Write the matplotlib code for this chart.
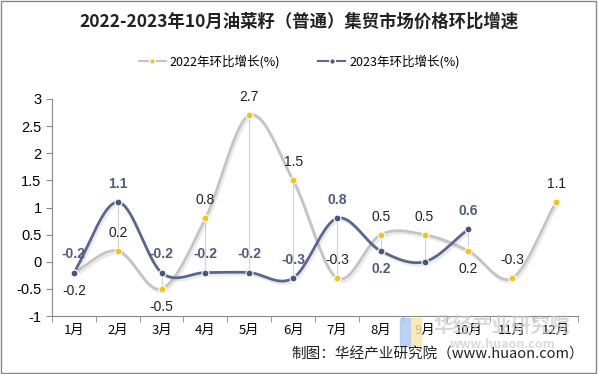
import numpy as np
import matplotlib.pyplot as plt
import matplotlib.patheffects as pe
from matplotlib.patches import Rectangle
from matplotlib.lines import Line2D

plt.rcParams['font.family'] = ['Noto Sans CJK SC', 'DejaVu Sans']

# данные
months = ['1月', '2月', '3月', '4月', '5月', '6月', '7月', '8月', '9月', '10月', '11月', '12月']
y2022 = [-0.2, 0.2, -0.5, 0.8, 2.7, 1.5, -0.3, 0.5, 0.5, 0.2, -0.3, 1.1]
y2023 = [-0.2, 1.1, -0.2, -0.2, -0.2, -0.3, 0.8, 0.2, 0.0, 0.6]
# где подписи: 1 - сверху, -1 - снизу, 0 - нет
pos2022 = [-1, 1, -1, 1, 1, 1, 1, 1, 1, -1, 1, 1]
pos2023 = [1, 1, 1, 1, 1, 1, 1, -1, 0, 1]


def smooth(ys, n=24):
    # сглаживание Catmull-Rom, как у сглаженной линии в Excel
    xs = np.arange(len(ys), dtype=float)
    ys = np.asarray(ys, dtype=float)
    px = np.concatenate([[2 * xs[0] - xs[1]], xs, [2 * xs[-1] - xs[-2]]])
    py = np.concatenate([[2 * ys[0] - ys[1]], ys, [2 * ys[-1] - ys[-2]]])
    ox, oy = [], []
    for i in range(1, len(px) - 2):
        t = np.linspace(0, 1, n)
        for p, out in ((px, ox), (py, oy)):
            p0, p1, p2, p3 = p[i - 1], p[i], p[i + 1], p[i + 2]
            out.extend(0.5 * ((2 * p1) + (-p0 + p2) * t + (2 * p0 - 5 * p1 + 4 * p2 - p3) * t ** 2
                              + (-p0 + 3 * p1 - 3 * p2 + p3) * t ** 3))
    return np.array(ox), np.array(oy)


fig = plt.figure(figsize=(5.98, 3.74), dpi=100)
ax = fig.add_axes([52 / 598, 1 - 316 / 374, 526 / 598, 217 / 374])

c22_line, c22_mk = '#c4c4c4', '#f5c21b'
c23_line, c23_mk = '#5b6690', '#4a5478'
shadow = [pe.SimpleLineShadow(offset=(1.2, -1.8), shadow_color='#999999', alpha=0.2), pe.Normal()]
num_font = ['Liberation Sans', 'DejaVu Sans']

# вертикальные линии между рядами
for i in range(len(y2023)):
    ax.plot([i, i], [y2022[i], y2023[i]], color='#d2d2d2', lw=0.8, zorder=1)

sx, sy = smooth(y2022)
ax.plot(sx, sy, color=c22_line, lw=2, path_effects=shadow, zorder=2)
sx, sy = smooth(y2023)
ax.plot(sx, sy, color=c23_line, lw=2, path_effects=shadow, zorder=3)
x22 = np.arange(len(y2022))
x23 = np.arange(len(y2023))
ax.plot(x22, y2022, 'o', ms=5, mfc=c22_mk, mec='white', mew=0.8, zorder=4)
ax.plot(x23, y2023, 'o', ms=5, mfc=c23_mk, mec='white', mew=0.8, zorder=5)

for i, v in enumerate(y2022):
    if pos2022[i]:
        ax.annotate(f'{v:g}', (i, v), xytext=(0, 8 * pos2022[i]), textcoords='offset points',
                    ha='center', va='bottom' if pos2022[i] > 0 else 'top', fontsize=10,
                    color='#222222', family=num_font)
for i, v in enumerate(y2023):
    if pos2023[i]:
        ax.annotate(f'{v:g}', (i, v), xytext=(0, 8 * pos2023[i]), textcoords='offset points',
                    ha='center', va='bottom' if pos2023[i] > 0 else 'top', fontsize=10,
                    color='#4f5a80', fontweight='bold', family=num_font)

ax.set_xlim(-0.5, 11.5)
ax.set_ylim(-1, 3)
ax.set_yticks(np.arange(-1, 3.01, 0.5))
ax.set_yticklabels(['-1', '-0.5', '0', '0.5', '1', '1.5', '2', '2.5', '3'], fontsize=10.5,
                   family=num_font)
ax.set_xticks(np.arange(12))
ax.set_xticklabels(months, fontsize=9.5)
ax.set_xticks(np.arange(-0.5, 12, 1), minor=True)
ax.tick_params(axis='x', which='major', length=0, pad=6)
ax.tick_params(axis='x', which='minor', length=4, color='#888888')
ax.tick_params(axis='y', length=4, color='#888888')
for s in ['top', 'right']:
    ax.spines[s].set_visible(False)
for s in ['left', 'bottom']:
    ax.spines[s].set_color('#888888')

# заголовок и легенда
fig.text(0.5, 1 - 22 / 374, '2022-2023年10月油菜籽（普通）集贸市场价格环比增速', ha='center', va='center',
         fontsize=12.5, fontweight='bold', color='#222222')
h1 = Line2D([], [], color=c22_line, lw=1.5, marker='o', ms=4, mfc=c22_mk, mec='white')
h2 = Line2D([], [], color=c23_line, lw=1.5, marker='o', ms=4, mfc=c23_mk, mec='white')
fig.legend([h1, h2], ['2022年环比增长(%)', '2023年环比增长(%)'], loc='center', bbox_to_anchor=(0.5, 1 - 62 / 374),
           ncol=2, frameon=False, fontsize=9, handlelength=2.2, columnspacing=3, handletextpad=0.3)

# водяной знак
fig.patches.append(Rectangle((400 / 598, 1 - 346 / 374), 10 / 598, 28 / 374, transform=fig.transFigure,
                             color='#a9c8f2', alpha=0.8, zorder=0))
fig.patches.append(Rectangle((411 / 598, 1 - 346 / 374), 10 / 598, 28 / 374, transform=fig.transFigure,
                             color='#f7e7a6', alpha=0.8, zorder=0))
fig.text(502 / 598, 1 - 326 / 374, '华经产业研究院', ha='center', va='center', fontsize=14,
         fontweight='bold', color='#c8c8c8', alpha=0.7)
fig.text(502 / 598, 1 - 345 / 374, 'www.huaon.com', ha='center', va='center', fontsize=9,
         fontweight='bold', color='#cccccc', alpha=0.7)

fig.text(584 / 598, 1 - 355 / 374, '制图：华经产业研究院（www.huaon.com）', ha='right', va='center',
         fontsize=10.5, color='#222222')

fig.patches.append(Rectangle((0.002, 0.003), 0.995, 0.994, transform=fig.transFigure,
                             fill=False, edgecolor='#888888', lw=1))

plt.savefig('out.png')
